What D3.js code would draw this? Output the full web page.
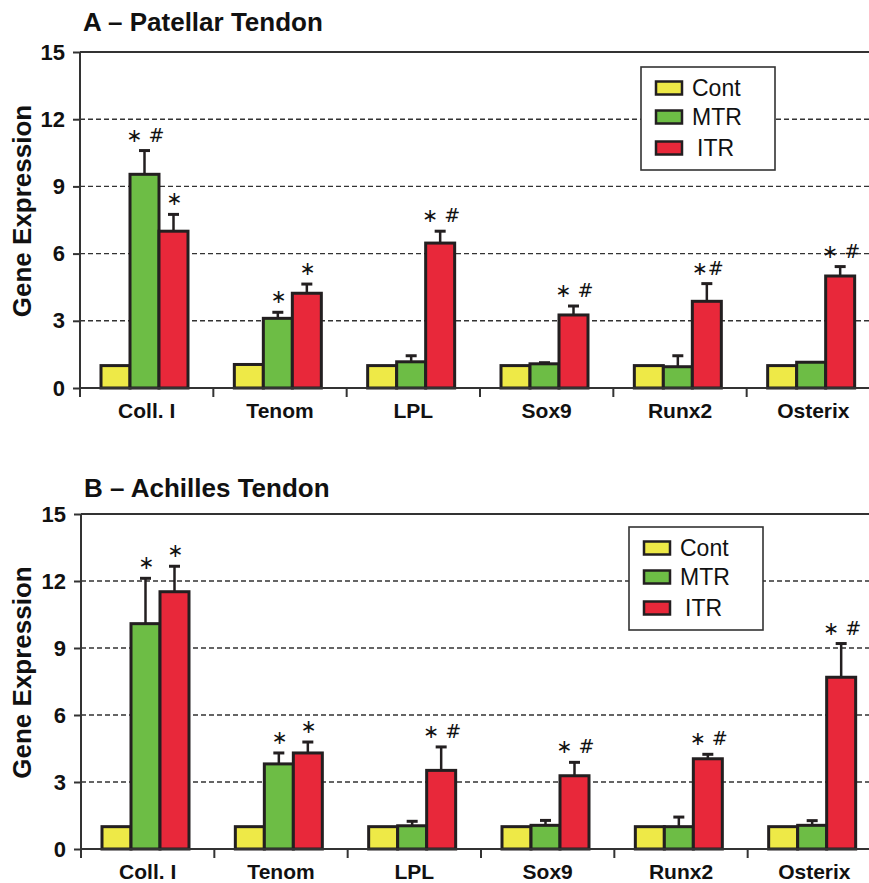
<!DOCTYPE html>
<html>
<head>
<meta charset="utf-8">
<script src="https://cdn.jsdelivr.net/npm/d3@7"></script>
<style>
  html, body { margin: 0; padding: 0; background: #fff; }
  svg { display: block; font-family: "Liberation Sans", Arial, sans-serif; }
</style>
</head>
<body>
<div id="chart"></div>
<script>
// categories and series
var genes = ["Coll. I", "Tenom", "LPL", "Sox9", "Runx2", "Osterix"];
var groups = ["Cont", "MTR", "ITR"];
var yTicks = [0, 3, 6, 9, 12, 15];

// A - patellar tendon
var patellarCont = [1.0, 1.05, 1.0, 1.0, 1.0, 1.0];
var patellarMTR = [9.54, 3.11, 1.17, 1.08, 0.95, 1.15];
var patellarITR = [7.0, 4.23, 6.47, 3.26, 3.87, 5.0];
var patellarMTRErr = [1.06, 0.27, 0.27, 0.05, 0.49, 0.0];
var patellarITRErr = [0.75, 0.41, 0.53, 0.40, 0.79, 0.42];
var patellarMTRSig = ["\u2217 #", "\u2217", "", "", "", ""];
var patellarITRSig = ["\u2217", "\u2217", "\u2217 #", "\u2217 #", "\u2217#", "\u2217 #"];

// B - achilles tendon
var achillesCont = [1.0, 1.0, 1.0, 1.0, 1.0, 1.0];
var achillesMTR = [10.09, 3.81, 1.04, 1.06, 1.0, 1.06];
var achillesITR = [11.52, 4.3, 3.52, 3.28, 4.04, 7.69];
var achillesMTRErr = [2.03, 0.49, 0.20, 0.22, 0.43, 0.21];
var achillesITRErr = [1.14, 0.49, 1.05, 0.60, 0.20, 1.51];
var achillesMTRSig = ["\u2217", "\u2217", "", "", "", ""];
var achillesITRSig = ["\u2217", "\u2217", "\u2217 #", "\u2217 #", "\u2217 #", "\u2217 #"];

var colors = { "Cont": "#eee947", "MTR": "#6dbd45", "ITR": "#e8283a" };
var ink = "#231f20";

var svg = d3.select("#chart").append("svg")
  .attr("width", 869)
  .attr("height", 883);

function drawPanel(opt) {
  var g = svg.append("g");

  var y = d3.scaleLinear().domain([0, 15]).range([opt.zero, opt.top]);
  var x0 = d3.scaleBand().domain(genes).range([opt.left, opt.left + 800]);
  var x1 = d3.scaleBand().domain(groups).range([21, 108]);

  // title
  g.append("text")
    .attr("x", opt.left + 3)
    .attr("y", opt.titleY)
    .style("font-size", "26px")
    .style("font-weight", "bold")
    .style("fill", "#111")
    .text(opt.title);

  // y label
  g.append("text")
    .attr("transform", "translate(31," + ((opt.top + opt.zero) / 2 - 9) + ") rotate(-90)")
    .attr("text-anchor", "middle")
    .style("font-size", "26px")
    .style("font-weight", "bold")
    .style("fill", "#111")
    .text("Gene Expression");

  // dashed grid
  g.append("g").selectAll("line")
    .data(yTicks.filter(function(d) { return d > 0 && d < 15; }))
    .enter().append("line")
      .attr("x1", opt.left)
      .attr("x2", opt.left + 800)
      .attr("y1", function(d) { return y(d); })
      .attr("y2", function(d) { return y(d); })
      .style("stroke", "#333")
      .style("stroke-width", 1.4)
      .style("stroke-dasharray", "5,3");

  // top frame line
  g.append("line")
    .attr("x1", opt.left).attr("x2", opt.left + 800)
    .attr("y1", y(15)).attr("y2", y(15))
    .style("stroke", "#333").style("stroke-width", 2);

  // y axis
  var yAxis = g.append("g")
    .attr("transform", "translate(" + opt.left + ",0)")
    .call(d3.axisLeft(y).tickValues(yTicks).tickSize(7).tickPadding(8));
  yAxis.select(".domain").remove();
  yAxis.append("line")
    .attr("y1", y(15)).attr("y2", opt.zero + 9)
    .style("stroke", "#333").style("stroke-width", 2);
  yAxis.selectAll(".tick line").style("stroke", "#333").style("stroke-width", 2);
  yAxis.selectAll(".tick text")
    .style("font-size", "22px")
    .style("font-weight", "bold")
    .style("fill", "#111")
    .style("font-family", "Liberation Sans, Arial, sans-serif");

  // legend
  var lg = g.append("g").attr("transform", "translate(" + opt.legendX + "," + opt.legendY + ")");
  lg.append("rect")
    .attr("width", 134).attr("height", 103)
    .style("fill", "#fff").style("stroke", "#333").style("stroke-width", 1.6);
  groups.forEach(function(k, i) {
    var rowY = 21 + i * opt.legendStep[i];
    lg.append("rect")
      .attr("x", 15).attr("y", rowY - 6.5)
      .attr("width", 26).attr("height", 13)
      .style("fill", colors[k]).style("stroke", ink).style("stroke-width", 2.5);
    lg.append("text")
      .attr("x", i === 2 ? 56 : 51)
      .attr("y", rowY + 8)
      .style("font-size", "23px")
      .style("fill", "#111")
      .text(k);
  });

  // bars
  var rows = genes.map(function(gene, i) {
    return {
      gene: gene,
      bars: [
        { key: "Cont", value: opt.cont[i], err: 0, sig: "" },
        { key: "MTR", value: opt.mtr[i], err: opt.mtrErr[i], sig: opt.mtrSig[i] },
        { key: "ITR", value: opt.itr[i], err: opt.itrErr[i], sig: opt.itrSig[i] }
      ]
    };
  });

  var cat = g.append("g").selectAll("g")
    .data(rows)
    .enter().append("g")
      .attr("transform", function(d) { return "translate(" + x0(d.gene) + ",0)"; });

  // error bars (drawn before bars so the stem starts at the bar top)
  var eb = cat.selectAll(".err")
    .data(function(d) { return d.bars.filter(function(b) { return b.err > 0; }); })
    .enter().append("g").attr("class", "err");
  eb.append("line")
    .attr("x1", function(d) { return x1(d.key) + x1.bandwidth() / 2; })
    .attr("x2", function(d) { return x1(d.key) + x1.bandwidth() / 2; })
    .attr("y1", function(d) { return y(d.value); })
    .attr("y2", function(d) { return y(d.value + d.err); })
    .style("stroke", ink).style("stroke-width", 2.5);
  eb.append("line")
    .attr("x1", function(d) { return x1(d.key) + x1.bandwidth() / 2 - 5.5; })
    .attr("x2", function(d) { return x1(d.key) + x1.bandwidth() / 2 + 5.5; })
    .attr("y1", function(d) { return y(d.value + d.err); })
    .attr("y2", function(d) { return y(d.value + d.err); })
    .style("stroke", ink).style("stroke-width", 3);

  cat.selectAll("rect")
    .data(function(d) { return d.bars; })
    .enter().append("rect")
      .attr("x", function(d) { return x1(d.key); })
      .attr("y", function(d) { return y(d.value); })
      .attr("width", x1.bandwidth())
      .attr("height", function(d) { return y(0) - y(d.value); })
      .style("fill", function(d) { return colors[d.key]; })
      .style("stroke", ink)
      .style("stroke-width", 3);

  cat.selectAll(".sig")
    .data(function(d) { return d.bars.filter(function(b) { return b.sig; }); })
    .enter().append("text")
      .attr("class", "sig")
      .attr("x", function(d) { return x1(d.key) + x1.bandwidth() / 2 + 1; })
      .attr("y", function(d) { return y(d.value + d.err) - 9; })
      .attr("text-anchor", "middle")
      .style("font-family", "DejaVu Sans, sans-serif")
      .style("font-size", "19px")
      .style("fill", "#111")
      .text(function(d) { return d.sig; });

  // x axis
  var xAxis = g.append("g")
    .attr("transform", "translate(0," + opt.zero + ")");
  xAxis.append("line")
    .attr("x1", opt.left).attr("x2", opt.left + 800)
    .style("stroke", "#333").style("stroke-width", 2);
  xAxis.selectAll(".sep")
    .data(genes.slice(1))
    .enter().append("line")
      .attr("class", "sep")
      .attr("x1", function(d) { return x0(d); })
      .attr("x2", function(d) { return x0(d); })
      .attr("y1", 0).attr("y2", 9)
      .style("stroke", "#333").style("stroke-width", 2);
  xAxis.selectAll(".lab")
    .data(genes)
    .enter().append("text")
      .attr("class", "lab")
      .attr("x", function(d) { return x0(d) + x0.bandwidth() / 2; })
      .attr("y", 30)
      .attr("text-anchor", "middle")
      .style("font-size", "21px")
      .style("font-weight", "bold")
      .style("fill", "#111")
      .text(function(d) { return d; });
}

drawPanel({
  title: "A \u2013 Patellar Tendon",
  left: 80, top: 52, zero: 388, titleY: 31,
  legendX: 641, legendY: 67, legendStep: [29, 29, 30],
  cont: patellarCont, mtr: patellarMTR, itr: patellarITR,
  mtrErr: patellarMTRErr, itrErr: patellarITRErr,
  mtrSig: patellarMTRSig, itrSig: patellarITRSig
});

drawPanel({
  title: "B \u2013 Achilles Tendon",
  left: 81, top: 514, zero: 849, titleY: 497,
  legendX: 629, legendY: 527, legendStep: [29, 29, 30],
  cont: achillesCont, mtr: achillesMTR, itr: achillesITR,
  mtrErr: achillesMTRErr, itrErr: achillesITRErr,
  mtrSig: achillesMTRSig, itrSig: achillesITRSig
});
</script>
</body>
</html>
